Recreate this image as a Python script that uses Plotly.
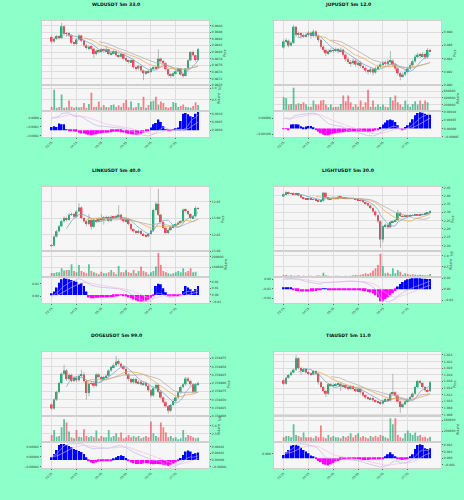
import pandas as pd
import plotly.graph_objects as go

# ---------------- data ----------------
TIME_LABELS = ["03:25", "04:15", "05:05", "05:55", "06:45", "07:35"]
TIME_TICK_POS = [0, 10, 20, 30, 40, 50]

TITLES = ["WLDUSDT 5m 33.0", "JUPUSDT 5m 12.0", "LINKUSDT 5m 40.0",
          "LIGHTUSDT 5m 30.0", "DOGEUSDT 5m 99.0", "TIAUSDT 5m 11.0"]

# WLD
WLD_OPEN0 = 0.98845
WLD_CLOSE = [0.98832, 0.98840, 0.98848, 0.98842, 0.98878, 0.98855, 0.98856, 0.98850, 0.98828, 0.98824,
             0.98838, 0.98850, 0.98834, 0.98820, 0.98812, 0.98816, 0.98810, 0.98794, 0.98804, 0.98800,
             0.98808, 0.98803, 0.98808, 0.98794, 0.98796, 0.98802, 0.98790, 0.98786, 0.98794, 0.98780,
             0.98774, 0.98770, 0.98776, 0.98754, 0.98750, 0.98758, 0.98744, 0.98736, 0.98742, 0.98740,
             0.98750, 0.98754, 0.98752, 0.98780, 0.98772, 0.98766, 0.98748, 0.98732, 0.98728, 0.98736,
             0.98742, 0.98750, 0.98732, 0.98728, 0.98750, 0.98775, 0.98800, 0.98790, 0.98776, 0.98808]
WLD_HIGH = [0.98850, 0.98845, 0.98852, 0.98851, 0.98888, 0.98880, 0.98860, 0.98860, 0.98853, 0.98832,
            0.98842, 0.98854, 0.98852, 0.98837, 0.98824, 0.98820, 0.98819, 0.98813, 0.98808, 0.98807,
            0.98812, 0.98811, 0.98818, 0.98810, 0.98800, 0.98806, 0.98804, 0.98793, 0.98797, 0.98796,
            0.98783, 0.98777, 0.98779, 0.98778, 0.98757, 0.98761, 0.98760, 0.98747, 0.98745, 0.98746,
            0.98753, 0.98757, 0.98757, 0.98808, 0.98784, 0.98776, 0.98769, 0.98750, 0.98736, 0.98739,
            0.98745, 0.98753, 0.98752, 0.98735, 0.98752, 0.98778, 0.98803, 0.98804, 0.98792, 0.98812]
WLD_LOW = [0.98826, 0.98828, 0.98836, 0.98838, 0.98840, 0.98850, 0.98846, 0.98845, 0.98824, 0.98818,
           0.98820, 0.98835, 0.98830, 0.98815, 0.98808, 0.98805, 0.98806, 0.98782, 0.98790, 0.98796,
           0.98797, 0.98798, 0.98800, 0.98790, 0.98790, 0.98793, 0.98786, 0.98782, 0.98783, 0.98776,
           0.98770, 0.98765, 0.98767, 0.98750, 0.98744, 0.98747, 0.98740, 0.98715, 0.98732, 0.98735,
           0.98737, 0.98746, 0.98748, 0.98750, 0.98768, 0.98762, 0.98744, 0.98726, 0.98722, 0.98725,
           0.98733, 0.98739, 0.98728, 0.98722, 0.98726, 0.98748, 0.98772, 0.98786, 0.98772, 0.98774]
WLD_VOL = [1.9e6, 9.4e6, 1.6e6, 1.9e6, 7.3e6, 1.6e6, 1.8e6, 4.7e6, 2.0e6, 1.6e6,
           1.9e6, 1.7e6, 1.9e6, 3.6e6, 1.6e6, 3.2e6, 8.1e6, 1.9e6, 2.0e6, 4.3e6,
           1.8e6, 2.7e6, 1.9e6, 1.8e6, 2.7e6, 3.0e6, 1.9e6, 2.6e6, 1.9e6, 3.6e6,
           5.0e6, 1.8e6, 4.3e6, 1.6e6, 1.9e6, 3.6e6, 1.9e6, 6.3e6, 1.6e6, 2.7e6,
           4.3e6, 4.6e6, 6.3e6, 3.0e6, 4.3e6, 3.6e6, 1.9e6, 1.6e6, 1.9e6, 4.0e6,
           3.6e6, 1.9e6, 2.3e6, 3.0e6, 1.9e6, 1.8e6, 1.6e6, 2.3e6, 3.9e6, 2.7e6]
WLD_HIST = [20e-5, 24e-5, 20e-5, 40e-5, 36e-5, 36e-5, 2e-5, -2e-5, -6e-5, -8e-5,
            -10e-5, -16e-5, -20e-5, -20e-5, -24e-5, -28e-5, -30e-5, -28e-5, -24e-5, -20e-5,
            -18e-5, -16e-5, -16e-5, -14e-5, -12e-5, -10e-5, -10e-5, -10e-5, -12e-5, -14e-5,
            -18e-5, -22e-5, -24e-5, -26e-5, -28e-5, -26e-5, -22e-5, -16e-5, -8e-5, -2e-5,
            16e-5, 36e-5, 44e-5, 64e-5, 50e-5, 24e-5, 4e-5, -2e-5, -4e-5, 2e-5,
            10e-5, 16e-5, 56e-5, 100e-5, 104e-5, 96e-5, 84e-5, 80e-5, 100e-5, 110e-5]

# JUP
JUP_OPEN0 = 0.8957
JUP_CLOSE = [0.8966, 0.8967, 0.8960, 0.8964, 0.8988, 0.8976, 0.8978, 0.8975, 0.8974, 0.8976,
             0.8979, 0.8974, 0.8981, 0.8974, 0.8968, 0.8958, 0.8953, 0.8948, 0.8951, 0.8953,
             0.8952, 0.8954, 0.8951, 0.89535, 0.8946, 0.8939, 0.8935, 0.8933, 0.8937, 0.8931,
             0.8934, 0.8929, 0.8926, 0.8922, 0.8920, 0.8924, 0.8919, 0.8925, 0.8928, 0.8931,
             0.8934, 0.8932, 0.8936, 0.8937, 0.8931, 0.8925, 0.8918, 0.8913, 0.8916, 0.8920,
             0.8925, 0.8930, 0.8936, 0.8943, 0.8946, 0.8944, 0.8947, 0.8942, 0.8953, 0.89515]
JUP_HIGH = [0.8969, 0.8971, 0.8969, 0.8966, 0.8991, 0.8989, 0.8981, 0.8980, 0.8978, 0.8979,
            0.8982, 0.8981, 0.8984, 0.8983, 0.8976, 0.8970, 0.8960, 0.8955, 0.8954, 0.8956,
            0.8956, 0.8957, 0.8956, 0.8957, 0.8955, 0.8948, 0.8942, 0.8938, 0.8940, 0.8939,
            0.8937, 0.8936, 0.8931, 0.8928, 0.8924, 0.8927, 0.8926, 0.8928, 0.8931, 0.8934,
            0.8937, 0.8937, 0.8939, 0.89515, 0.8939, 0.8933, 0.8927, 0.8920, 0.8919, 0.8923,
            0.8928, 0.8933, 0.8939, 0.8946, 0.8949, 0.8949, 0.8950, 0.8949, 0.8956, 0.8955]
JUP_LOW = [0.8955, 0.8963, 0.8957, 0.8958, 0.8962, 0.8973, 0.8972, 0.8970, 0.8971, 0.8972,
           0.8973, 0.8970, 0.8972, 0.8971, 0.8965, 0.8955, 0.8950, 0.8944, 0.8946, 0.8949,
           0.8949, 0.8950, 0.8948, 0.8949, 0.8943, 0.8936, 0.8932, 0.8928, 0.8931, 0.8928,
           0.8929, 0.8926, 0.8923, 0.8919, 0.8916, 0.8918, 0.8915, 0.8917, 0.8923, 0.8926,
           0.8929, 0.8929, 0.8930, 0.8933, 0.8928, 0.8922, 0.8915, 0.89075, 0.8911, 0.8914,
           0.8918, 0.8923, 0.8928, 0.8934, 0.8941, 0.8941, 0.8942, 0.8939, 0.8940, 0.8950]
JUP_VOL = [420000, 400000, 200000, 220000, 700000, 200000, 240000, 220000, 270000, 200000,
           140000, 140000, 320000, 200000, 200000, 320000, 340000, 200000, 120000, 200000,
           120000, 140000, 140000, 220000, 470000, 300000, 470000, 270000, 140000, 200000,
           140000, 320000, 140000, 270000, 640000, 140000, 320000, 140000, 200000, 140000,
           200000, 140000, 120000, 420000, 320000, 470000, 270000, 200000, 140000, 320000,
           200000, 140000, 220000, 300000, 200000, 320000, 220000, 320000, 270000, 20000]
JUP_HIST = [-4e-6, -4e-6, -6e-6, 24e-6, 26e-6, 26e-6, 24e-6, 14e-6, 8e-6, 12e-6,
            16e-6, 16e-6, 4e-6, -10e-6, -20e-6, -28e-6, -36e-6, -40e-6, -40e-6, -36e-6,
            -32e-6, -28e-6, -26e-6, -24e-6, -22e-6, -20e-6, -20e-6, -20e-6, -18e-6, -18e-6,
            -18e-6, -18e-6, -20e-6, -20e-6, -20e-6, -18e-6, -16e-6, -12e-6, -8e-6, 10e-6,
            24e-6, 36e-6, 50e-6, 54e-6, 50e-6, 40e-6, 20e-6, -4e-6, -6e-6, 10e-6,
            20e-6, 36e-6, 56e-6, 80e-6, 94e-6, 98e-6, 96e-6, 90e-6, 84e-6, 84e-6]

# LINK
LINK_OPEN0 = 13.818
LINK_CLOSE = [13.816, 13.844, 13.860, 13.875, 13.890, 13.900, 13.894, 13.910, 13.912, 13.904,
              13.920, 13.932, 13.900, 13.890, 13.882, 13.894, 13.874, 13.894, 13.890, 13.898,
              13.894, 13.902, 13.903, 13.892, 13.904, 13.902, 13.906, 13.910, 13.896, 13.890,
              13.896, 13.882, 13.866, 13.860, 13.856, 13.861, 13.852, 13.848, 13.845, 13.852,
              13.862, 13.924, 13.943, 13.910, 13.888, 13.870, 13.855, 13.864, 13.872, 13.878,
              13.882, 13.886, 13.890, 13.925, 13.921, 13.912, 13.900, 13.905, 13.930, 13.929]
LINK_HIGH = [13.821, 13.847, 13.864, 13.879, 13.894, 13.905, 13.904, 13.914, 13.916, 13.915,
             13.924, 13.945, 13.935, 13.904, 13.893, 13.912, 13.897, 13.898, 13.900, 13.902,
             13.912, 13.906, 13.907, 13.906, 13.908, 13.907, 13.910, 13.938, 13.913, 13.899,
             13.900, 13.899, 13.885, 13.869, 13.863, 13.865, 13.864, 13.855, 13.851, 13.855,
             13.866, 13.928, 13.948, 13.988, 13.913, 13.891, 13.873, 13.868, 13.876, 13.882,
             13.886, 13.890, 13.894, 13.929, 13.929, 13.924, 13.915, 13.909, 13.936, 13.933]
LINK_LOW = [13.813, 13.814, 13.841, 13.857, 13.872, 13.886, 13.890, 13.891, 13.906, 13.900,
            13.901, 13.917, 13.896, 13.886, 13.876, 13.878, 13.865, 13.870, 13.886, 13.887,
            13.890, 13.880, 13.898, 13.888, 13.889, 13.898, 13.899, 13.903, 13.892, 13.886,
            13.887, 13.878, 13.862, 13.856, 13.852, 13.853, 13.848, 13.845, 13.842, 13.842,
            13.849, 13.858, 13.920, 13.906, 13.884, 13.866, 13.851, 13.852, 13.861, 13.869,
            13.875, 13.879, 13.883, 13.887, 13.917, 13.908, 13.896, 13.897, 13.902, 13.926]
LINK_VOL = [43000, 43000, 50000, 50000, 89000, 66000, 73000, 73000, 129000, 63000,
            50000, 122000, 63000, 50000, 40000, 129000, 63000, 50000, 40000, 30000,
            56000, 40000, 40000, 50000, 73000, 50000, 30000, 112000, 50000, 50000,
            73000, 50000, 43000, 73000, 40000, 63000, 106000, 63000, 50000, 30000,
            50000, 63000, 106000, 238000, 122000, 63000, 50000, 40000, 30000, 40000,
            50000, 63000, 50000, 89000, 50000, 63000, 89000, 50000, 56000, 7000]
LINK_HIST = [15e-4, 50e-4, 110e-4, 185e-4, 235e-4, 250e-4, 245e-4, 235e-4, 225e-4, 210e-4,
             200e-4, 160e-4, 175e-4, 135e-4, 50e-4, -40e-4, -50e-4, -50e-4, -45e-4, -45e-4,
             -40e-4, -40e-4, -40e-4, -35e-4, -35e-4, -30e-4, -25e-4, -10e-4, -5e-4, -15e-4,
             -25e-4, -40e-4, -50e-4, -70e-4, -85e-4, -95e-4, -100e-4, -100e-4, -90e-4, -75e-4,
             -45e-4, -15e-4, 135e-4, 170e-4, 160e-4, 100e-4, 40e-4, -15e-4, -25e-4, -25e-4,
             -20e-4, -15e-4, -5e-4, 60e-4, 135e-4, 110e-4, 85e-4, 60e-4, 90e-4, 135e-4]

# LIGHT
LIGHT_OPEN0 = 2.396
LIGHT_CLOSE = [2.410, 2.422, 2.412, 2.416, 2.410, 2.414, 2.402, 2.390, 2.382, 2.380,
               2.384, 2.378, 2.380, 2.374, 2.366, 2.370, 2.418, 2.390, 2.378, 2.382,
               2.386, 2.382, 2.394, 2.386, 2.390, 2.386, 2.382, 2.386, 2.382, 2.378,
               2.374, 2.370, 2.362, 2.352, 2.342, 2.326, 2.306, 2.282, 2.246, 2.136,
               2.216, 2.226, 2.210, 2.242, 2.246, 2.254, 2.298, 2.278, 2.274, 2.282,
               2.276, 2.284, 2.282, 2.286, 2.284, 2.290, 2.288, 2.294, 2.298, 2.308]
LIGHT_HIGH = [2.416, 2.428, 2.426, 2.421, 2.420, 2.419, 2.417, 2.406, 2.394, 2.386,
              2.388, 2.388, 2.385, 2.384, 2.378, 2.375, 2.424, 2.421, 2.393, 2.386,
              2.390, 2.390, 2.400, 2.398, 2.394, 2.393, 2.390, 2.390, 2.392, 2.386,
              2.382, 2.378, 2.374, 2.366, 2.356, 2.346, 2.330, 2.310, 2.286, 2.250,
              2.222, 2.234, 2.232, 2.248, 2.252, 2.262, 2.316, 2.302, 2.284, 2.288,
              2.286, 2.290, 2.288, 2.292, 2.290, 2.294, 2.294, 2.298, 2.302, 2.312]
LIGHT_LOW = [2.392, 2.406, 2.408, 2.408, 2.405, 2.406, 2.398, 2.385, 2.378, 2.375,
             2.376, 2.374, 2.374, 2.370, 2.362, 2.362, 2.366, 2.386, 2.374, 2.374,
             2.378, 2.378, 2.379, 2.382, 2.382, 2.382, 2.378, 2.378, 2.378, 2.374,
             2.370, 2.365, 2.356, 2.346, 2.336, 2.320, 2.298, 2.274, 2.236, 2.086,
             2.120, 2.208, 2.200, 2.206, 2.236, 2.240, 2.250, 2.272, 2.268, 2.270,
             2.272, 2.272, 2.277, 2.278, 2.280, 2.280, 2.284, 2.284, 2.290, 2.294]
LIGHT_VOL = [94000, 109000, 78000, 94000, 78000, 78000, 94000, 62000, 78000, 62000,
             78000, 78000, 62000, 78000, 94000, 78000, 218000, 94000, 78000, 62000,
             62000, 78000, 78000, 62000, 62000, 78000, 62000, 78000, 94000, 109000,
             94000, 125000, 140000, 187000, 156000, 218000, 312000, 421000, 577000, 1092000,
             530000, 187000, 218000, 156000, 421000, 187000, 343000, 265000, 125000, 187000,
             156000, 125000, 140000, 125000, 109000, 125000, 109000, 94000, 94000, 156000]
LIGHT_HIST = [24e-4, 24e-4, 18e-4, 18e-4, -18e-4, -30e-4, -36e-4, -42e-4, -42e-4, -42e-4,
              -42e-4, -36e-4, -36e-4, -30e-4, -18e-4, -6e-4, 12e-4, 6e-4, -6e-4, -12e-4,
              -12e-4, -12e-4, -6e-4, -6e-4, -12e-4, -12e-4, -12e-4, -12e-4, -18e-4, -18e-4,
              -18e-4, -24e-4, -30e-4, -36e-4, -48e-4, -60e-4, -78e-4, -108e-4, -144e-4, -216e-4,
              -216e-4, -180e-4, -150e-4, -108e-4, -72e-4, -30e-4, 48e-4, 96e-4, 132e-4, 162e-4,
              180e-4, 192e-4, 198e-4, 198e-4, 198e-4, 198e-4, 192e-4, 192e-4, 186e-4, 186e-4]

# DOGE
DOGE_OPEN0 = 0.159835
DOGE_CLOSE = [0.159823, 0.159850, 0.159873, 0.159900, 0.159928, 0.159938, 0.159912, 0.159924, 0.159906, 0.159916,
              0.159908, 0.159922, 0.159926, 0.159906, 0.159870, 0.159898, 0.159900, 0.159892, 0.159926, 0.159918,
              0.159912, 0.159918, 0.159922, 0.159938, 0.159948, 0.159954, 0.159964, 0.159958, 0.159950, 0.159942,
              0.159926, 0.159912, 0.159902, 0.159912, 0.159900, 0.159904, 0.159896, 0.159900, 0.159892, 0.159878,
              0.159862, 0.159884, 0.159894, 0.159874, 0.159856, 0.159842, 0.159830, 0.159816, 0.159834, 0.159846,
              0.159856, 0.159872, 0.159888, 0.159896, 0.159914, 0.159906, 0.159896, 0.159874, 0.159896, 0.159900]
DOGE_HIGH = [0.159839, 0.159854, 0.159877, 0.159904, 0.159932, 0.159955, 0.159942, 0.159930, 0.159928, 0.159920,
             0.159920, 0.159926, 0.159940, 0.159932, 0.159910, 0.159903, 0.159905, 0.159904, 0.159930, 0.159930,
             0.159922, 0.159922, 0.159926, 0.159942, 0.159952, 0.159960, 0.159982, 0.159972, 0.159962, 0.159954,
             0.159946, 0.159930, 0.159916, 0.159916, 0.159916, 0.159908, 0.159908, 0.159904, 0.159904, 0.159896,
             0.159882, 0.159888, 0.159898, 0.159898, 0.159878, 0.159860, 0.159846, 0.159834, 0.159838, 0.159850,
             0.159860, 0.159876, 0.159892, 0.159900, 0.159918, 0.159918, 0.159910, 0.159900, 0.159900, 0.159904]
DOGE_LOW = [0.159819, 0.159819, 0.159846, 0.159869, 0.159896, 0.159924, 0.159906, 0.159908, 0.159902, 0.159902,
            0.159903, 0.159904, 0.159918, 0.159902, 0.159850, 0.159860, 0.159894, 0.159886, 0.159888, 0.159914,
            0.159906, 0.159908, 0.159914, 0.159918, 0.159934, 0.159944, 0.159950, 0.159954, 0.159946, 0.159938,
            0.159922, 0.159906, 0.159898, 0.159898, 0.159896, 0.159896, 0.159892, 0.159892, 0.159888, 0.159874,
            0.159856, 0.159858, 0.159880, 0.159870, 0.159852, 0.159838, 0.159826, 0.159808, 0.159812, 0.159830,
            0.159842, 0.159852, 0.159868, 0.159884, 0.159892, 0.159902, 0.159892, 0.159868, 0.159870, 0.159892]
DOGE_VOL = [2.2e6, 3.7e6, 1.7e6, 1.9e6, 4.5e6, 6.9e6, 5.9e6, 3.2e6, 1.5e6, 1.2e6,
            3.7e6, 1.7e6, 1.5e6, 3.9e6, 1.9e6, 1.5e6, 1.9e6, 1.5e6, 3.5e6, 1.2e6,
            1.9e6, 1.5e6, 1.5e6, 3.7e6, 1.5e6, 1.9e6, 2.7e6, 1.5e6, 2.9e6, 1.2e6,
            1.5e6, 2.2e6, 1.5e6, 1.9e6, 1.5e6, 1.9e6, 1.2e6, 1.5e6, 1.9e6, 1.5e6,
            6.2e6, 2.7e6, 1.9e6, 1.5e6, 5.9e6, 4.5e6, 2.9e6, 1.5e6, 1.9e6, 1.2e6,
            1.5e6, 0.9e6, 1.2e6, 3.7e6, 1.5e6, 2.2e6, 1.9e6, 1.5e6, 1.2e6, 1.4e6]
DOGE_HIST = [40e-7, 90e-7, 150e-7, 225e-7, 240e-7, 240e-7, 225e-7, 210e-7, 190e-7, 165e-7,
             150e-7, 135e-7, 120e-7, 90e-7, 40e-7, -10e-7, -40e-7, -50e-7, -40e-7, -25e-7,
             -20e-7, -20e-7, -15e-7, -10e-7, -10e-7, 15e-7, 40e-7, 60e-7, 70e-7, 60e-7,
             30e-7, -10e-7, -40e-7, -50e-7, -60e-7, -60e-7, -60e-7, -55e-7, -50e-7, -50e-7,
             -60e-7, -65e-7, -60e-7, -60e-7, -65e-7, -75e-7, -80e-7, -90e-7, -75e-7, -60e-7,
             -40e-7, -10e-7, 30e-7, 75e-7, 125e-7, 140e-7, 125e-7, 90e-7, 100e-7, 110e-7]

# TIA
TIA_OPEN0 = 1.0163
TIA_CLOSE = [1.0153, 1.0171, 1.0179, 1.0187, 1.0195, 1.0230, 1.0200, 1.0191, 1.0197, 1.0187,
             1.0183, 1.0181, 1.0191, 1.0183, 1.0157, 1.0143, 1.0131, 1.0123, 1.0151, 1.0147,
             1.0149, 1.0151, 1.0153, 1.0145, 1.0147, 1.0141, 1.0137, 1.0145, 1.0137, 1.0131,
             1.0137, 1.0127, 1.0117, 1.0111, 1.0107, 1.0109, 1.0103, 1.0099, 1.0097, 1.0093,
             1.0101, 1.0107, 1.0103, 1.0123, 1.0127, 1.0117, 1.0099, 1.0083, 1.0091, 1.0099,
             1.0105, 1.0113, 1.0123, 1.0143, 1.0161, 1.0155, 1.0143, 1.0133, 1.0131, 1.0157]
TIA_HIGH = [1.0167, 1.0175, 1.0183, 1.0191, 1.0199, 1.0240, 1.0233, 1.0204, 1.0201, 1.0200,
            1.0191, 1.0187, 1.0195, 1.0194, 1.0186, 1.0160, 1.0146, 1.0134, 1.0155, 1.0155,
            1.0153, 1.0155, 1.0157, 1.0156, 1.0151, 1.0150, 1.0144, 1.0149, 1.0148, 1.0140,
            1.0141, 1.0140, 1.0130, 1.0120, 1.0114, 1.0113, 1.0112, 1.0106, 1.0102, 1.0100,
            1.0105, 1.0111, 1.0110, 1.0127, 1.0183, 1.0130, 1.0120, 1.0102, 1.0095, 1.0103,
            1.0109, 1.0117, 1.0127, 1.0147, 1.0165, 1.0165, 1.0158, 1.0146, 1.0137, 1.0162]
TIA_LOW = [1.0149, 1.0150, 1.0168, 1.0176, 1.0184, 1.0192, 1.0196, 1.0180, 1.0188, 1.0183,
           1.0179, 1.0177, 1.0178, 1.0179, 1.0150, 1.0139, 1.0127, 1.0113, 1.0120, 1.0143,
           1.0143, 1.0145, 1.0147, 1.0131, 1.0141, 1.0137, 1.0133, 1.0134, 1.0133, 1.0127,
           1.0128, 1.0123, 1.0113, 1.0107, 1.0103, 1.0104, 1.0099, 1.0095, 1.0093, 1.0089,
           1.0090, 1.0098, 1.0099, 1.0100, 1.0119, 1.0113, 1.0094, 1.0065, 1.0079, 1.0088,
           1.0096, 1.0102, 1.0110, 1.0120, 1.0140, 1.0151, 1.0139, 1.0129, 1.0126, 1.0128]
TIA_VOL = [91000, 115000, 115000, 91000, 327000, 133000, 115000, 91000, 176000, 91000,
           91000, 91000, 73000, 115000, 91000, 303000, 91000, 73000, 133000, 91000,
           115000, 91000, 91000, 73000, 115000, 91000, 115000, 164000, 91000, 133000,
           164000, 91000, 115000, 91000, 73000, 115000, 91000, 115000, 91000, 133000,
           115000, 91000, 73000, 436000, 327000, 436000, 133000, 91000, 73000, 164000,
           212000, 164000, 133000, 176000, 115000, 133000, 91000, 103000, 73000, 103000]
TIA_HIST = [50e-5, 90e-5, 125e-5, 190e-5, 200e-5, 200e-5, 190e-5, 160e-5, 125e-5, 100e-5,
            75e-5, 40e-5, 15e-5, -15e-5, -40e-5, -60e-5, -90e-5, -100e-5, -110e-5, -90e-5,
            -70e-5, -50e-5, -40e-5, -25e-5, -20e-5, -15e-5, -15e-5, -10e-5, -10e-5, -10e-5,
            -15e-5, -20e-5, -25e-5, -25e-5, -25e-5, -20e-5, -20e-5, -20e-5, -20e-5, -15e-5,
            -10e-5, 20e-5, 60e-5, 90e-5, 60e-5, 30e-5, -10e-5, -20e-5, -25e-5, -20e-5,
            -10e-5, 15e-5, 60e-5, 140e-5, 200e-5, 210e-5, 200e-5, 150e-5, 140e-5, 150e-5]

# volume axis tick labels (matplotlib style with offset exponent)
WLD_VOL_TICKS, WLD_VOL_TEXT, WLD_VOL_EXP = [0.5e7, 1.0e7], ["0.5", "1.0"], "1e7"
JUP_VOL_TICKS, JUP_VOL_TEXT, JUP_VOL_EXP = [200000, 400000, 600000], ["200000", "400000", "600000"], ""
LINK_VOL_TICKS, LINK_VOL_TEXT, LINK_VOL_EXP = [100000, 200000], ["100000", "200000"], ""
LIGHT_VOL_TICKS, LIGHT_VOL_TEXT, LIGHT_VOL_EXP = [0.5e6, 1.0e6], ["0.5", "1.0"], "1e6"
DOGE_VOL_TICKS, DOGE_VOL_TEXT, DOGE_VOL_EXP = [2.5e6, 5.0e6], ["2.5", "5.0"], "1e6"
TIA_VOL_TICKS, TIA_VOL_TEXT, TIA_VOL_EXP = [200000, 400000], ["200000", "400000"], ""

MA_WINDOWS = [7, 14, 20]

PANELS = [
    dict(title=TITLES[0], o0=WLD_OPEN0, c=WLD_CLOSE, h=WLD_HIGH, l=WLD_LOW, v=WLD_VOL, hist=WLD_HIST,
         prange=[0.98699, 0.98894], pdt=0.0002, pfmt=".4f",
         vrange=[0, 1.12e7], vt=WLD_VOL_TICKS, vtx=WLD_VOL_TEXT, vexp=WLD_VOL_EXP,
         hrange=[-4.2e-4, 1.14e-3], hdt=0.0005, hfmt=".4f"),
    dict(title=TITLES[1], o0=JUP_OPEN0, c=JUP_CLOSE, h=JUP_HIGH, l=JUP_LOW, v=JUP_VOL, hist=JUP_HIST,
         prange=[0.88995, 0.8997], pdt=0.002, pfmt=".3f",
         vrange=[0, 770000], vt=JUP_VOL_TICKS, vtx=JUP_VOL_TEXT, vexp=JUP_VOL_EXP,
         hrange=[-5.2e-5, 1.04e-4], hdt=0.00005, hfmt=".5f"),
    dict(title=TITLES[2], o0=LINK_OPEN0, c=LINK_CLOSE, h=LINK_HIGH, l=LINK_LOW, v=LINK_VOL, hist=LINK_HIST,
         prange=[13.799, 13.994], pdt=0.05, pfmt=".2f",
         vrange=[0, 254000], vt=LINK_VOL_TICKS, vtx=LINK_VOL_TEXT, vexp=LINK_VOL_EXP,
         hrange=[-0.0125, 0.0265], hdt=0.01, hfmt=".2f"),
    dict(title=TITLES[3], o0=LIGHT_OPEN0, c=LIGHT_CLOSE, h=LIGHT_HIGH, l=LIGHT_LOW, v=LIGHT_VOL, hist=LIGHT_HIST,
         prange=[2.064, 2.454], pdt=0.05, pfmt=".2f",
         vrange=[0, 1.2e6], vt=LIGHT_VOL_TICKS, vtx=LIGHT_VOL_TEXT, vexp=LIGHT_VOL_EXP,
         hrange=[-0.0252, 0.0216], hdt=0.02, hfmt=".2f"),
    dict(title=TITLES[4], o0=DOGE_OPEN0, c=DOGE_CLOSE, h=DOGE_HIGH, l=DOGE_LOW, v=DOGE_VOL, hist=DOGE_HIST,
         prange=[0.159799, 0.159994], pdt=0.000025, pfmt=".6f",
         vrange=[0, 7.7e6], vt=DOGE_VOL_TICKS, vtx=DOGE_VOL_TEXT, vexp=DOGE_VOL_EXP,
         hrange=[-1.25e-5, 2.65e-5], hdt=0.00001, hfmt=".5f"),
    dict(title=TITLES[5], o0=TIA_OPEN0, c=TIA_CLOSE, h=TIA_HIGH, l=TIA_LOW, v=TIA_VOL, hist=TIA_HIST,
         prange=[1.0054, 1.0249], pdt=0.002, pfmt=".3f",
         vrange=[0, 467000], vt=TIA_VOL_TICKS, vtx=TIA_VOL_TEXT, vexp=TIA_VOL_EXP,
         hrange=[-0.0015, 0.0024], hdt=0.001, hfmt=".3f"),
]

# ---------------- styling / layout ----------------
W, H = 464, 500
BG = "#8dffc8"
PLOT_BG = "#f6f6f6"
GRID = "#dedede"
UP, DOWN = "#22ab76", "#f0424f"
UP_V, DOWN_V = "rgba(34,171,118,0.7)", "rgba(240,66,79,0.65)"
MA_COLORS = ["#6a9fc0", "#f2a24c", "#ababab"]
COLS = [(42, 209), (274, 441)]
ROW_TOPS = [20, 187, 353]
TITLE_Y = [4, 171, 337]
SUB_H = [65, 26, 26]
XRANGE = [-3.9, 63.4]
TICK_FONT = dict(size=3, color="#333333", family="DejaVu Sans")

fig = go.Figure()
layout = dict(width=W, height=H, margin=dict(l=0, r=0, t=0, b=0),
              paper_bgcolor=BG, plot_bgcolor=PLOT_BG, showlegend=False,
              barmode="overlay", annotations=[])


def key(prefix, k):
    return prefix if k == 1 else f"{prefix}{k}"


for p, P in enumerate(PANELS):
    n = len(P["c"])
    assert len(P["h"]) == n and len(P["l"]) == n and len(P["v"]) == n and len(P["hist"]) == n, P["title"]
    idx = list(range(n))
    close = P["c"]
    opens = [P["o0"]] + close[:-1]
    up = [c >= o for c, o in zip(close, opens)]

    col, row = p % 2, p // 2
    x0, x1 = COLS[col]
    top = ROW_TOPS[row]
    bounds = []
    t = top
    for hh in SUB_H:
        bounds.append((t, t + hh))
        t += hh

    xk = [p * 3 + s + 1 for s in range(3)]
    yk = [p * 4 + s + 1 for s in range(4)]
    xa = [key("x", k) for k in xk]
    ya = [key("y", k) for k in yk]

    # ---- price: wicks + bodies + moving averages
    wx, wy = [], []
    for i in idx:
        wx += [i, i, None]
        wy += [P["l"][i], P["h"][i], None]
    fig.add_trace(go.Scatter(x=wx, y=wy, mode="lines", line=dict(color="#8c8c8c", width=0.6),
                             xaxis=xa[0], yaxis=ya[0], hoverinfo="skip"))
    fig.add_trace(go.Bar(x=idx, y=[c - o for c, o in zip(close, opens)], base=opens, width=0.72,
                         marker=dict(color=[UP if u else DOWN for u in up], line=dict(width=0)),
                         xaxis=xa[0], yaxis=ya[0]))
    cs = pd.Series(close)
    for w, mc in zip(MA_WINDOWS, MA_COLORS):
        fig.add_trace(go.Scatter(x=idx, y=cs.rolling(w).mean(), mode="lines",
                                 line=dict(color=mc, width=0.7), xaxis=xa[0], yaxis=ya[0]))

    # ---- volume
    fig.add_trace(go.Bar(x=idx, y=P["v"], width=0.72,
                         marker=dict(color=[UP_V if u else DOWN_V for u in up], line=dict(width=0)),
                         xaxis=xa[1], yaxis=ya[1]))

    # ---- MACD histogram + lines
    fig.add_trace(go.Bar(x=idx, y=P["hist"], width=0.75,
                         marker=dict(color=["#0000ff" if v >= 0 else "#ff00ff" for v in P["hist"]],
                                     line=dict(width=0)),
                         xaxis=xa[2], yaxis=ya[2]))
    ema12 = cs.ewm(span=12, adjust=False).mean()
    ema26 = cs.ewm(span=26, adjust=False).mean()
    macd = ema12 - ema26
    signal = macd.ewm(span=9, adjust=False).mean()
    fig.add_trace(go.Scatter(x=idx, y=macd, mode="lines", line=dict(color="#b3aef0", width=0.6),
                             xaxis=xa[2], yaxis=ya[3]))
    fig.add_trace(go.Scatter(x=idx, y=signal, mode="lines", line=dict(color="#efb7e0", width=0.6),
                             xaxis=xa[2], yaxis=ya[3]))

    # ---- axes
    for s in range(3):
        tb, bb = bounds[s]
        layout[key("xaxis", xk[s])] = dict(
            domain=[x0 / W, x1 / W], anchor=ya[s], range=XRANGE,
            tickvals=TIME_TICK_POS, ticktext=TIME_LABELS, showticklabels=(s == 2),
            tickangle=-45, tickfont=TICK_FONT, ticks="outside" if s == 2 else "",
            ticklen=1.5, tickwidth=0.4, tickcolor="#666666",
            showgrid=True, gridcolor=GRID, gridwidth=0.5, zeroline=False,
            showline=True, linecolor="#cfcfcf", linewidth=0.5, mirror=True, fixedrange=True)
        ydom = [1 - bb / H, 1 - tb / H]
        yd = dict(domain=ydom, anchor=xa[s], side="right", tickfont=TICK_FONT,
                  showgrid=True, gridcolor=GRID, gridwidth=0.5, zeroline=False,
                  ticks="outside", ticklen=1.5, tickwidth=0.4, tickcolor="#666666",
                  showline=True, linecolor="#cfcfcf", linewidth=0.5, mirror=True)
        if s == 0:
            yd.update(range=P["prange"], dtick=P["pdt"], tickformat=P["pfmt"],
                      title=dict(text="Price", font=dict(size=3.2, color="#333333"), standoff=2))
        elif s == 1:
            yd.update(range=P["vrange"], tickvals=P["vt"], ticktext=P["vtx"],
                      title=dict(text="Volume", font=dict(size=3.2, color="#333333"), standoff=2))
        else:
            yd.update(range=P["hrange"], dtick=P["hdt"], tickformat=P["hfmt"], showgrid=False)
        layout[key("yaxis", yk[s])] = yd
    layout[key("yaxis", yk[3])] = dict(
        overlaying=ya[2], anchor=xa[2], side="left", tickfont=TICK_FONT, nticks=3,
        showgrid=False, zeroline=False, ticks="outside", ticklen=1.5, tickwidth=0.4,
        tickcolor="#666666", exponentformat="none", tickformat=P["hfmt"])

    # title + volume exponent
    layout["annotations"].append(dict(
        text=f"<b>{P['title']}</b>", x=(116 + col * 232) / W, y=1 - TITLE_Y[row] / H,
        xref="paper", yref="paper", showarrow=False, xanchor="center", yanchor="middle",
        font=dict(size=4.6, color="#111111", family="DejaVu Sans")))
    if P["vexp"]:
        layout["annotations"].append(dict(
            text=P["vexp"], x=(x1 + 7) / W, y=1 - (bounds[1][0] + 3) / H, xref="paper", yref="paper",
            showarrow=False, xanchor="left", yanchor="middle", textangle=-90,
            font=dict(size=3, color="#333333")))

fig.update_layout(**layout)
fig.write_html("out.html")
